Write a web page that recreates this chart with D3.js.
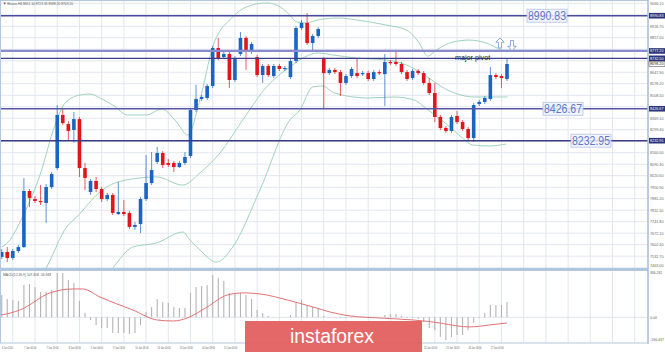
<!DOCTYPE html>
<html>
<head>
<meta charset="utf-8">
<script src="https://cdn.jsdelivr.net/npm/d3@7"></script>
<style>
  body { margin: 0; background: #fff; }
  svg { display: block; }
  text { font-family: "Liberation Sans", Arial, sans-serif; }
</style>
</head>
<body>
<div id="chart"></div>
<script>
// Bitcoin H4 candles (price values)
const opens  = [7528,7558,7522,7564,7588,7928,7879,7867,7855,7952, 8067,8389,8334,8298,8364,8067,7922,7989,7940,7879,
                7904,7788,7801,7795,7710,7728,7879,7976,8104,8158, 8098,8098,8073,8098,8140,8419,8486,8492,8565,8795,
                8740,8759,8601,8759,8856,8771,8740,8631,8686,8625, 8686,8668,8619,8716,8916,8947,8825,8868,8728,8643,
                8662,8649,8583,8625,8643,8637,8643,8607,8649,8637, 8710,8710,8698,8649,8613,8656,8643,8583,8522,8377,
                8310,8292,8383,8346,8304,8249,8455,8468,8486,8631, 8625,8607];
const highs  = [7576,7588,7576,7601,8007,7940,7898,7964,7970,8043, 8449,8431,8352,8407,8377,8098,8001,8013,7952,7916,
                7916,7983,7873,7807,7740,7892,8146,8164,8195,8170, 8122,8110,8110,8164,8431,8571,8510,8577,8807,8856,
                8771,8771,8746,8892,8868,8831,8753,8698,8698,8698, 8698,8686,8728,8928,8965,9007,8880,8922,8740,8674,
                8674,8662,8637,8680,8734,8656,8656,8662,8662,8759, 8722,8783,8710,8662,8668,8668,8656,8613,8583,8389,
                8322,8389,8413,8358,8316,8461,8480,8504,8680,8643, 8637,8734];
const lows   = [7516,7497,7510,7552,7582,7831,7855,7843,7734,7940, 8055,8328,8237,8219,8013,7934,7904,7922,7861,7867,
                7782,7782,7776,7698,7691,7673,7867,7964,8092,8067, 8073,8043,8067,8086,8128,8407,8474,8480,8552,8722,
                8728,8552,8589,8746,8662,8759,8619,8583,8619,8613, 8656,8656,8607,8704,8904,8813,8783,8856,8431,8631,
                8637,8504,8571,8613,8613,8625,8595,8595,8631,8443, 8692,8686,8637,8595,8601,8631,8571,8510,8346,8298,
                8280,8280,8334,8292,8237,8225,8443,8455,8474,8607, 8552,8595];
const closes = [7558,7522,7564,7588,7928,7886,7867,7861,7952,8031, 8389,8340,8292,8364,8067,8007,7989,7940,7879,7904,
                7795,7801,7788,7710,7722,7879,7976,8055,8158,8086, 8086,8073,8098,8134,8419,8486,8498,8565,8795,8734,
                8759,8601,8728,8856,8771,8819,8631,8686,8631,8686, 8668,8674,8716,8916,8947,8825,8868,8910,8643,8662,
                8649,8583,8625,8668,8625,8643,8607,8649,8643,8710, 8704,8698,8649,8607,8656,8643,8583,8522,8377,8310,
                8292,8377,8346,8304,8249,8449,8468,8492,8631,8619, 8613,8698];

// Bollinger bands, points [bar index, price]
const bbUpper = [[0,7588],[1.5,7631],[3.3,7740],[6.9,8025],[9.6,8328],[11.4,8461],[14.1,8510],[15.9,8516],
                 [17.7,8492],[20,8449],[22.7,8389],[26.1,8389],[28.8,8425],[31.5,8346],[33.5,8267],[35.7,8480],
                 [38,8801],[41.6,8983],[44.1,9044],[47.7,9068],[49.5,9056],[51.9,8995],[53.1,8953],[54.9,8947],
                 [56.9,8965],[60.8,8977],[63.9,8965],[69.3,8934],[72.9,8904],[75.2,8825],[76.7,8746],[78.3,8783],
                 [81.2,8831],[84.2,8843],[87.3,8825],[90,8783],[91.1,8771]];
const bbMiddle = [[5,7300],[8.1,7467],[11.7,7710],[13.5,7770],[17.7,7922],[18.9,7952],[22.5,7995],[27.9,8013],
                  [32.6,7964],[35.7,8037],[39.3,8158],[43.4,8358],[47.7,8559],[51.9,8680],[55.4,8753],[56.9,8765],
                  [59.6,8753],[63.9,8734],[69.3,8722],[72.9,8692],[75.6,8643],[80.3,8540],[85.1,8498],[90,8498],[91.1,8498]];
const bbLower = [[0,7420],[7.8,7450],[11,7280],[16,7280],[20,7461],[23.6,7588],[27.9,7613],[32.6,7679],[33.9,7631],
                 [35.7,7570],[38.7,7497],[41.6,7588],[46.5,7934],[51.9,8358],[53.7,8419],[56,8559],[57.8,8565],
                 [59.9,8522],[65.9,8492],[70.7,8498],[74.3,8480],[76.1,8437],[80.3,8328],[83,8249],[84.8,8207],
                 [87.8,8201],[90.9,8213]];

// MACD histogram (one per bar) and signal line points
const macdHist = [180,148,140,132,261,269,245,205,205,221, 358,358,302,277,132,35,-22,-62,-87,-87,
                  -127,-127,-127,-135,-127,-62,43,83,148,124, 116,83,75,75,197,245,253,261,342,318,
                  294,197,197,197,180,148,59,35,11,2, 2,2,19,116,140,100,83,75,11,2,
                  2,-6,-6,2,2,2,-6,-6,2,19, 27,27,11,-6,-6,-14,-38,-87,-103,-159,
                  -184,-159,-143,-143,-103,-46,-6,35,100,100, 100,124];
const macdSignal = [[0,19],[3.3,59],[8.7,197],[12.8,229],[14.6,229],[17.7,164],[23.6,59],[28,-22],[30.9,-30],
                    [33.4,-6],[37,83],[40.6,180],[43.5,197],[47.8,180],[51.4,140],[56.1,83],[59.1,43],[62.7,11],
                    [68.1,-6],[74.1,-22],[78.9,-46],[82,-70],[84.3,-78],[87.9,-62],[91,-46]];

// axis labels
const priceTicks = [9066.10,8996.40,8926.70,8857.00,8787.30,8717.60,8647.90,8578.20,8508.50,8438.80,8369.10,8299.40,
                    8229.70,8160.00,8090.30,8020.60,7950.90,7881.20,7811.50,7741.80,7672.10,7602.40,7532.70];
const dateLabels = ["6 Jan 2020","7 Jan 00:00","7 Jan 16:00","8 Jan 08:00","9 Jan 00:00","9 Jan 16:00","10 Jan 08:00",
                    "13 Jan 00:00","13 Jan 16:00","14 Jan 08:00","15 Jan 00:00","15 Jan 16:00","16 Jan 08:00",
                    "17 Jan 00:00","17 Jan 16:00","20 Jan 08:00","21 Jan 00:00","21 Jan 16:00","22 Jan 08:00",
                    "23 Jan 00:00","23 Jan 16:00","24 Jan 08:00","27 Jan 00:00"];
const macdTicks = [366.262, 0, -166.437];

// drawn levels
const levelPrices = [8990.83, 8777.20, 8732.50, 8426.67, 8232.95];
const levelColors = ["#4a4a9c", "#8a8ad0", "#3c3c8a", "#5656a8", "#3a3a8a"];
const levelWidths = [1.4, 2.2, 1.3, 1.6, 1.4];
const boxedLevels = [8990.83, 8426.67, 8232.95];
const lastPrice = 8698.20;

const width = 665, height = 352, plotRight = 648;
const mainTop = 2, mainBottom = 267, macdTop = 272, macdBottom = 342;
const markX0 = 245, markX1 = 422;

const svg = d3.select("#chart").append("svg")
  .attr("width", width).attr("height", height);

const x = d3.scaleLinear().domain([0, 91]).range([1.7, 507]);
const y = d3.scaleLinear().domain([7467, 9074]).range([mainBottom, mainTop]);
const ym = d3.scaleLinear().domain([-200, 366.262]).range([macdBottom, macdTop]);

const defs = svg.append("defs");
defs.append("clipPath").attr("id", "clipMain")
  .append("rect").attr("x", 0).attr("y", 0).attr("width", plotRight).attr("height", 268);
defs.append("clipPath").attr("id", "clipMacd")
  .append("rect").attr("x", 0).attr("y", 270).attr("width", plotRight).attr("height", 73);

// grid
const grid = svg.append("g");
const gridBars = d3.range(2, 117, 4);
gridBars.forEach(i => {
  grid.append("line").attr("x1", x(i)).attr("x2", x(i)).attr("y1", 0).attr("y2", 268)
    .attr("stroke", "#e2e6ee").attr("stroke-width", 1);
  grid.append("line").attr("x1", x(i)).attr("x2", x(i)).attr("y1", 270).attr("y2", 343)
    .attr("stroke", "#e2e6ee").attr("stroke-width", 1);
});
priceTicks.forEach(p => {
  grid.append("line").attr("x1", 0).attr("x2", plotRight).attr("y1", y(p)).attr("y2", y(p))
    .attr("stroke", "#e2e6ee").attr("stroke-width", 1);
});
grid.append("line").attr("x1", 0).attr("x2", plotRight).attr("y1", ym(0)).attr("y2", ym(0))
  .attr("stroke", "#dfe3ea").attr("stroke-width", 1);

// bollinger bands
const main = svg.append("g").attr("clip-path", "url(#clipMain)");
const bandLine = d3.line().x(d => x(d[0])).y(d => y(d[1])).curve(d3.curveMonotoneX);
[bbUpper, bbMiddle, bbLower].forEach(b => {
  main.append("path").attr("d", bandLine(b))
    .attr("fill", "none").attr("stroke", "#9fd3bd").attr("stroke-width", 1);
});

// candles
const bars = d3.range(opens.length);
const bull = "#1a64c4", bear = "#e2141c";
main.selectAll("line.wick").data(bars).enter().append("line")
  .attr("class", "wick")
  .attr("x1", i => x(i)).attr("x2", i => x(i))
  .attr("y1", i => y(highs[i])).attr("y2", i => y(lows[i]))
  .attr("stroke", i => closes[i] >= opens[i] ? bull : bear)
  .attr("stroke-opacity", 0.7).attr("stroke-width", 1);
main.selectAll("rect.body").data(bars).enter().append("rect")
  .attr("class", "body")
  .attr("x", i => x(i) - 1.8).attr("width", 3.6)
  .attr("y", i => y(Math.max(opens[i], closes[i])))
  .attr("height", i => Math.max(1.2, Math.abs(y(opens[i]) - y(closes[i]))))
  .attr("fill", i => closes[i] >= opens[i] ? bull : bear);

// horizontal levels
levelPrices.forEach((p, k) => {
  main.append("line").attr("x1", 0).attr("x2", plotRight).attr("y1", y(p)).attr("y2", y(p))
    .attr("stroke", levelColors[k]).attr("stroke-width", levelWidths[k]);
});

// level text boxes
const boxX = [547, 563, 591];
boxedLevels.forEach((p, k) => {
  const g = svg.append("g").attr("transform", `translate(${boxX[k]},${y(p)})`);
  g.append("rect").attr("x", -20).attr("y", -6.5).attr("width", 40).attr("height", 13)
    .attr("fill", "#eef2fb").attr("fill-opacity", 0.85)
    .attr("stroke", "#b3c2e6").attr("stroke-width", 0.8);
  g.append("text").attr("x", 0).attr("y", 4.5).attr("text-anchor", "middle")
    .attr("font-size", 12.5).attr("fill", "#6178c8")
    .attr("textLength", 38).attr("lengthAdjust", "spacingAndGlyphs")
    .text(p.toFixed(2));
});

// major pivot note and arrows
svg.append("text").attr("x", 455).attr("y", 59.5).attr("font-size", 7.2).attr("fill", "#222")
  .text("major pivot");
const arrowPath = "M0,-5 L4.2,-0.8 L1.6,-0.8 L1.6,5 L-1.6,5 L-1.6,-0.8 L-4.2,-0.8 Z";
svg.append("path").attr("d", arrowPath).attr("transform", "translate(500,43)")
  .attr("fill", "#fff").attr("stroke", "#7d9cd8").attr("stroke-width", 0.9);
svg.append("path").attr("d", arrowPath).attr("transform", "translate(512,45.5) rotate(180)")
  .attr("fill", "#fff").attr("stroke", "#7d9cd8").attr("stroke-width", 0.9);

// MACD panel
const macd = svg.append("g").attr("clip-path", "url(#clipMacd)");
macd.selectAll("line.hist").data(bars).enter().append("line")
  .attr("class", "hist")
  .attr("x1", i => x(i)).attr("x2", i => x(i))
  .attr("y1", ym(0)).attr("y2", i => ym(macdHist[i]))
  .attr("stroke", "#b4b4b4").attr("stroke-width", 1.1);
const sigLine = d3.line().x(d => x(d[0])).y(d => ym(d[1])).curve(d3.curveMonotoneX);
macd.append("path").attr("d", sigLine(macdSignal))
  .attr("fill", "none").attr("stroke", "#e27272").attr("stroke-width", 1);

// frames
svg.append("rect").attr("x", 0.5).attr("y", 0.5).attr("width", plotRight - 0.5).attr("height", 268)
  .attr("fill", "none").attr("stroke", "#b3c8de").attr("stroke-width", 1);
svg.append("line").attr("x1", 0).attr("x2", plotRight).attr("y1", 269).attr("y2", 269)
  .attr("stroke", "#aec6de").attr("stroke-width", 2.5);
svg.append("rect").attr("x", 0.5).attr("y", 270.5).attr("width", plotRight - 0.5).attr("height", 72.5)
  .attr("fill", "none").attr("stroke", "#b3c8de").attr("stroke-width", 1);
svg.append("line").attr("x1", plotRight).attr("x2", plotRight).attr("y1", 0).attr("y2", 344)
  .attr("stroke", "#9fb6d2").attr("stroke-width", 1);

// right price axis
const axisG = svg.append("g");
const flagged = levelPrices.concat([lastPrice]).map(p => y(p));
priceTicks.forEach(p => {
  if (flagged.some(fy => Math.abs(fy - y(p)) < 5.5)) return; // hidden behind the flags
  axisG.append("text").attr("x", 650).attr("y", y(p) + 1.5)
    .attr("font-size", 4).attr("fill", "#666")
    .attr("textLength", 13.5).attr("lengthAdjust", "spacingAndGlyphs").text(p.toFixed(2));
});
axisG.append("text").attr("x", 650).attr("y", 267).attr("font-size", 3.6).attr("fill", "#666")
  .attr("textLength", 13.5).attr("lengthAdjust", "spacingAndGlyphs").text("7463.00");
levelPrices.forEach(p => {
  axisG.append("rect").attr("x", 649).attr("y", y(p) - 2.8).attr("width", 16).attr("height", 5.6).attr("fill", "#2c3577");
  axisG.append("text").attr("x", 650).attr("y", y(p) + 1.5)
    .attr("font-size", 4).attr("fill", "#fff")
    .attr("textLength", 13.5).attr("lengthAdjust", "spacingAndGlyphs").text(p.toFixed(2));
});
axisG.append("rect").attr("x", 649).attr("y", y(lastPrice) - 2.6).attr("width", 16).attr("height", 5.2)
  .attr("fill", "#fff").attr("stroke", "#555").attr("stroke-width", 0.6);
axisG.append("text").attr("x", 650).attr("y", y(lastPrice) + 1.4)
  .attr("font-size", 3.8).attr("fill", "#222")
  .attr("textLength", 13.5).attr("lengthAdjust", "spacingAndGlyphs").text(lastPrice.toFixed(2));

const macdLabelY = [273.8, ym(0) + 1.5, 341];
macdTicks.forEach((v, k) => {
  const t = v === 0 ? "0.00" : v.toFixed(3);
  axisG.append("text").attr("x", 650).attr("y", macdLabelY[k])
    .attr("font-size", 3.6).attr("fill", "#666")
    .attr("textLength", t.length * 1.75).attr("lengthAdjust", "spacingAndGlyphs").text(t);
});

// date labels (the ones under the watermark are covered in the picture)
dateLabels.forEach((t, k) => {
  const lx = x(k * 4) + 0.3;
  if (lx > markX0 - 14 && lx < markX1) return;
  svg.append("text").attr("x", lx).attr("y", 348.5)
    .attr("font-size", 3.8).attr("fill", "#666")
    .attr("textLength", t.length * 1.1).attr("lengthAdjust", "spacingAndGlyphs").text(t);
});

// titles
svg.append("text").attr("x", 3).attr("y", 5.2).attr("font-size", 4.2).attr("fill", "#555")
  .attr("textLength", 70).attr("lengthAdjust", "spacingAndGlyphs")
  .text("▼ Bitcoin,H4  8651.10 8723.35 8598.20 8703.20");
svg.append("text").attr("x", 3).attr("y", 275.8).attr("font-size", 3.8).attr("fill", "#555")
  .attr("textLength", 48).attr("lengthAdjust", "spacingAndGlyphs")
  .text("MACD(12,26,9) 107.458 -16.948");

// watermark
svg.append("rect").attr("x", markX0).attr("y", 321).attr("width", markX1 - markX0).attr("height", 31)
  .attr("fill", "#e35c5c").attr("fill-opacity", 0.93);
svg.append("text").attr("x", 290).attr("y", 343).attr("font-size", 20)
  .attr("font-family", "'Open Sans', sans-serif").attr("fill", "#fff")
  .attr("textLength", 84).attr("lengthAdjust", "spacingAndGlyphs")
  .text("instaforex");
</script>
</body>
</html>
